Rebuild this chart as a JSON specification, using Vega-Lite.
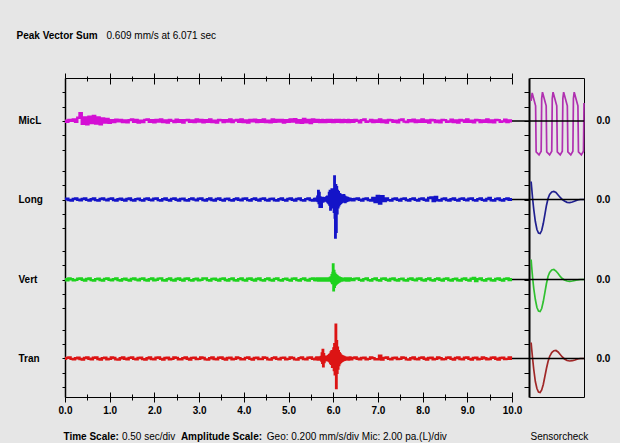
{
"$schema": "https://vega.github.io/schema/vega-lite/v6.json",
"width": 519, "height": 319,
"autosize": {"type": "none"},
"padding": {"left": 65, "top": 78, "right": 36, "bottom": 46},
"background": "#e6e6e6",
"config": {
  "view": {"stroke": null},
  "font": "Liberation Sans",
  "axis": {"grid": false, "domainColor": "#000", "tickColor": "#000", "labelColor": "#000", "labelFont": "Liberation Sans", "labelFontSize": 10, "labelFontWeight": "bold", "labelFlush": false, "labelOverlap": false, "labelBound": false, "titleFont": "Liberation Sans", "titleFontSize": 10, "titleColor": "#000", "titleFontWeight": "normal", "titleAlign": "left", "titleBaseline": "alphabetic", "titleAngle": 0, "domainWidth": 1, "tickWidth": 1}
},
"datasets": {
"traces": [
{"t":0,"MicL":0.05,"Long":0.004,"Vert":0.006,"Tran":-0.003},
{"t":0.05,"MicL":-0.12,"Long":0.012,"Vert":-0.01,"Tran":0.009},
{"t":0.1,"MicL":0.15,"Long":-0.006,"Vert":0.014,"Tran":0.014},
{"t":0.15,"MicL":0.02,"Long":-0.014,"Vert":0.003,"Tran":-0.006},
{"t":0.2,"MicL":0.2,"Long":0.008,"Vert":-0.012,"Tran":-0.013},
{"t":0.25,"MicL":-0.1,"Long":0.015,"Vert":-0.005,"Tran":0.004},
{"t":0.3,"MicL":0.45,"Long":-0.003,"Vert":0.011,"Tran":0.012},
{"t":0.35,"MicL":1.1,"Long":-0.012,"Vert":0.016,"Tran":-0.008},
{"t":0.4,"MicL":-0.4,"Long":0.007,"Vert":-0.004,"Tran":-0.015},
{"t":0.45,"MicL":0.5,"Long":0.013,"Vert":-0.014,"Tran":0.006},
{"t":0.5,"MicL":-0.45,"Long":-0.005,"Vert":0.008,"Tran":0.013},
{"t":0.55,"MicL":0.6,"Long":-0.015,"Vert":0.013,"Tran":-0.004},
{"t":0.6,"MicL":-0.3,"Long":0.004,"Vert":-0.009,"Tran":-0.012},
{"t":0.65,"MicL":0.7,"Long":0.014,"Vert":-0.015,"Tran":0.01},
{"t":0.7,"MicL":-0.35,"Long":-0.008,"Vert":0.005,"Tran":0.015},
{"t":0.75,"MicL":0.5,"Long":-0.013,"Vert":0.012,"Tran":-0.007},
{"t":0.8,"MicL":-0.45,"Long":0.006,"Vert":-0.006,"Tran":-0.014},
{"t":0.85,"MicL":0.35,"Long":0.016,"Vert":-0.013,"Tran":0.005},
{"t":0.9,"MicL":-0.2,"Long":-0.002,"Vert":0.009,"Tran":0.011},
{"t":0.95,"MicL":0.3,"Long":-0.011,"Vert":0.015,"Tran":-0.01},
{"t":1,"MicL":-0.25,"Long":0.009,"Vert":-0.003,"Tran":-0.005},
{"t":1.05,"MicL":0.1,"Long":0.014,"Vert":-0.012,"Tran":0.013},
{"t":1.1,"MicL":-0.15,"Long":-0.007,"Vert":0.006,"Tran":0.007},
{"t":1.15,"MicL":0.18,"Long":-0.016,"Vert":0.014,"Tran":-0.012},
{"t":1.2,"MicL":-0.05,"Long":0.003,"Vert":-0.008,"Tran":-0.016},
{"t":1.25,"MicL":0.14,"Long":0.012,"Vert":-0.015,"Tran":0.004},
{"t":1.3,"MicL":-0.16,"Long":-0.004,"Vert":0.004,"Tran":0.014},
{"t":1.35,"MicL":0.08,"Long":-0.013,"Vert":0.012,"Tran":-0.003},
{"t":1.4,"MicL":-0.18,"Long":0.008,"Vert":-0.005,"Tran":-0.011},
{"t":1.45,"MicL":0.12,"Long":0.015,"Vert":-0.014,"Tran":0.009},
{"t":1.5,"MicL":0.2,"Long":-0.006,"Vert":0.007,"Tran":0.016},
{"t":1.55,"MicL":-0.1,"Long":-0.014,"Vert":0.015,"Tran":-0.006},
{"t":1.6,"MicL":0.15,"Long":0.005,"Vert":-0.002,"Tran":-0.013},
{"t":1.65,"MicL":-0.2,"Long":0.012,"Vert":-0.012,"Tran":0.007},
{"t":1.7,"MicL":0.05,"Long":-0.009,"Vert":0.009,"Tran":0.012},
{"t":1.75,"MicL":-0.14,"Long":-0.015,"Vert":0.016,"Tran":-0.009},
{"t":1.8,"MicL":0.16,"Long":0.006,"Vert":-0.006,"Tran":-0.015},
{"t":1.85,"MicL":0.22,"Long":0.016,"Vert":-0.015,"Tran":0.003},
{"t":1.9,"MicL":-0.12,"Long":-0.003,"Vert":0.005,"Tran":0.013},
{"t":1.95,"MicL":0.1,"Long":-0.012,"Vert":0.013,"Tran":-0.008},
{"t":2,"MicL":-0.18,"Long":0.01,"Vert":-0.01,"Tran":-0.012},
{"t":2.05,"MicL":0.14,"Long":0.014,"Vert":-0.004,"Tran":0.01},
{"t":2.1,"MicL":-0.08,"Long":-0.008,"Vert":0.012,"Tran":0.015},
{"t":2.15,"MicL":0.2,"Long":-0.015,"Vert":0.014,"Tran":-0.005},
{"t":2.2,"MicL":-0.15,"Long":0.004,"Vert":-0.011,"Tran":-0.014},
{"t":2.25,"MicL":0.06,"Long":0.013,"Vert":-0.015,"Tran":0.006},
{"t":2.3,"MicL":-0.2,"Long":-0.005,"Vert":0.006,"Tran":0.012},
{"t":2.35,"MicL":0.15,"Long":-0.013,"Vert":0.013,"Tran":-0.01},
{"t":2.4,"MicL":0.02,"Long":0.009,"Vert":-0.007,"Tran":-0.006},
{"t":2.45,"MicL":-0.16,"Long":0.016,"Vert":-0.014,"Tran":0.014},
{"t":2.5,"MicL":0.18,"Long":-0.004,"Vert":0.008,"Tran":0.008},
{"t":2.55,"MicL":-0.1,"Long":-0.014,"Vert":0.016,"Tran":-0.013},
{"t":2.6,"MicL":0.12,"Long":0.007,"Vert":-0.003,"Tran":-0.011},
{"t":2.65,"MicL":-0.22,"Long":0.011,"Vert":-0.013,"Tran":0.005},
{"t":2.7,"MicL":0.1,"Long":-0.01,"Vert":0.01,"Tran":0.016},
{"t":2.75,"MicL":0.16,"Long":-0.016,"Vert":0.014,"Tran":-0.004},
{"t":2.8,"MicL":-0.12,"Long":0.005,"Vert":-0.009,"Tran":-0.015},
{"t":2.85,"MicL":0.08,"Long":0.015,"Vert":-0.016,"Tran":0.009},
{"t":2.9,"MicL":-0.16,"Long":-0.002,"Vert":0.004,"Tran":0.012},
{"t":2.95,"MicL":0.2,"Long":-0.012,"Vert":0.012,"Tran":-0.009},
{"t":3,"MicL":-0.06,"Long":0.01,"Vert":-0.012,"Tran":-0.005},
{"t":3.05,"MicL":0.14,"Long":0.013,"Vert":-0.005,"Tran":0.014},
{"t":3.1,"MicL":-0.18,"Long":-0.007,"Vert":0.013,"Tran":0.006},
{"t":3.15,"MicL":0.1,"Long":-0.015,"Vert":0.015,"Tran":-0.012},
{"t":3.2,"MicL":-0.1,"Long":0.003,"Vert":-0.008,"Tran":-0.014},
{"t":3.25,"MicL":0.2,"Long":0.014,"Vert":-0.014,"Tran":0.004},
{"t":3.3,"MicL":-0.14,"Long":-0.006,"Vert":0.007,"Tran":0.015},
{"t":3.35,"MicL":0.05,"Long":-0.013,"Vert":0.012,"Tran":-0.007},
{"t":3.4,"MicL":-0.2,"Long":0.008,"Vert":-0.004,"Tran":-0.012},
{"t":3.45,"MicL":0.16,"Long":0.016,"Vert":-0.015,"Tran":0.01},
{"t":3.5,"MicL":0.1,"Long":-0.005,"Vert":0.009,"Tran":0.013},
{"t":3.55,"MicL":-0.15,"Long":-0.014,"Vert":0.016,"Tran":-0.004},
{"t":3.6,"MicL":0.12,"Long":0.006,"Vert":-0.006,"Tran":-0.016},
{"t":3.65,"MicL":-0.08,"Long":0.012,"Vert":-0.013,"Tran":0.007},
{"t":3.7,"MicL":0.2,"Long":-0.009,"Vert":0.005,"Tran":0.011},
{"t":3.75,"MicL":-0.16,"Long":-0.015,"Vert":0.014,"Tran":-0.01},
{"t":3.8,"MicL":0.06,"Long":0.004,"Vert":-0.01,"Tran":-0.006},
{"t":3.85,"MicL":0.15,"Long":0.015,"Vert":-0.016,"Tran":0.014},
{"t":3.9,"MicL":-0.12,"Long":-0.003,"Vert":0.006,"Tran":0.005},
{"t":3.95,"MicL":0.22,"Long":-0.012,"Vert":0.013,"Tran":-0.013},
{"t":4,"MicL":-0.14,"Long":0.01,"Vert":-0.007,"Tran":-0.01},
{"t":4.05,"MicL":0.08,"Long":0.014,"Vert":-0.014,"Tran":0.008},
{"t":4.1,"MicL":-0.2,"Long":-0.008,"Vert":0.01,"Tran":0.015},
{"t":4.15,"MicL":0.15,"Long":-0.016,"Vert":0.015,"Tran":-0.006},
{"t":4.2,"MicL":-0.04,"Long":0.005,"Vert":-0.004,"Tran":-0.014},
{"t":4.25,"MicL":0.18,"Long":0.013,"Vert":-0.013,"Tran":0.006},
{"t":4.3,"MicL":-0.16,"Long":-0.004,"Vert":0.008,"Tran":0.012},
{"t":4.35,"MicL":0.1,"Long":-0.013,"Vert":0.014,"Tran":-0.009},
{"t":4.4,"MicL":-0.1,"Long":0.009,"Vert":-0.009,"Tran":-0.007},
{"t":4.45,"MicL":0.2,"Long":0.015,"Vert":-0.015,"Tran":0.013},
{"t":4.5,"MicL":-0.15,"Long":-0.006,"Vert":0.005,"Tran":0.009},
{"t":4.55,"MicL":0.05,"Long":-0.014,"Vert":0.013,"Tran":-0.012},
{"t":4.6,"MicL":-0.18,"Long":0.006,"Vert":-0.006,"Tran":-0.015},
{"t":4.65,"MicL":0.22,"Long":0.012,"Vert":-0.014,"Tran":0.005},
{"t":4.7,"MicL":-0.1,"Long":-0.01,"Vert":0.009,"Tran":0.014},
{"t":4.75,"MicL":0.14,"Long":-0.015,"Vert":0.016,"Tran":-0.005},
{"t":4.8,"MicL":-0.06,"Long":0.003,"Vert":-0.008,"Tran":-0.013},
{"t":4.85,"MicL":0.16,"Long":0.014,"Vert":-0.015,"Tran":0.008},
{"t":4.9,"MicL":-0.22,"Long":-0.005,"Vert":0.006,"Tran":0.012},
{"t":4.95,"MicL":0.12,"Long":-0.013,"Vert":0.012,"Tran":-0.01},
{"t":5,"MicL":-0.12,"Long":0.008,"Vert":-0.005,"Tran":-0.006},
{"t":5.05,"MicL":0.2,"Long":0.016,"Vert":-0.013,"Tran":0.014},
{"t":5.1,"MicL":-0.08,"Long":-0.004,"Vert":0.011,"Tran":0.007},
{"t":5.15,"MicL":0.25,"Long":-0.014,"Vert":0.015,"Tran":-0.012},
{"t":5.2,"MicL":-0.2,"Long":0.007,"Vert":-0.009,"Tran":-0.014},
{"t":5.25,"MicL":0.1,"Long":0.013,"Vert":-0.015,"Tran":0.005},
{"t":5.3,"MicL":-0.26,"Long":-0.008,"Vert":0.006,"Tran":0.013},
{"t":5.35,"MicL":0.28,"Long":-0.016,"Vert":0.013,"Tran":-0.008},
{"t":5.4,"MicL":-0.18,"Long":0.005,"Vert":-0.007,"Tran":-0.012},
{"t":5.45,"MicL":0.15,"Long":0.015,"Vert":-0.014,"Tran":0.01},
{"t":5.5,"MicL":-0.3,"Long":-0.006,"Vert":0.009,"Tran":0.015},
{"t":5.55,"MicL":0.22,"Long":-0.014,"Vert":0.016,"Tran":-0.006},
{"t":5.6,"MicL":-0.1,"Long":0.006,"Vert":-0.006,"Tran":-0.013},
{"t":5.61,"MicL":0.05,"Long":0.012,"Vert":-0.012,"Tran":-0.004},
{"t":5.62,"MicL":0.14,"Long":0.002,"Vert":-0.003,"Tran":0.008},
{"t":5.63,"MicL":0.03,"Long":-0.01,"Vert":0.008,"Tran":0.014},
{"t":5.64,"MicL":-0.12,"Long":-0.016,"Vert":0.013,"Tran":0.004},
{"t":5.65,"MicL":-0.04,"Long":0.04,"Vert":0.004,"Tran":-0.009},
{"t":5.66,"MicL":0.1,"Long":-0.02,"Vert":-0.009,"Tran":-0.014},
{"t":5.67,"MicL":0.15,"Long":0.12,"Vert":-0.014,"Tran":-0.002},
{"t":5.68,"MicL":-0.02,"Long":-0.05,"Vert":-0.004,"Tran":0.011},
{"t":5.69,"MicL":-0.13,"Long":0.09,"Vert":0.01,"Tran":0.015},
{"t":5.7,"MicL":-0.05,"Long":-0.1,"Vert":0.014,"Tran":0.002},
{"t":5.71,"MicL":0.12,"Long":0.03,"Vert":0.002,"Tran":-0.012},
{"t":5.72,"MicL":0.06,"Long":-0.06,"Vert":-0.01,"Tran":-0.015},
{"t":5.73,"MicL":-0.1,"Long":0.02,"Vert":-0.015,"Tran":0.02},
{"t":5.74,"MicL":-0.14,"Long":-0.1,"Vert":-0.003,"Tran":-0.03},
{"t":5.75,"MicL":0.02,"Long":0.01,"Vert":0.01,"Tran":0.07},
{"t":5.76,"MicL":0.14,"Long":-0.03,"Vert":0.015,"Tran":-0.06},
{"t":5.77,"MicL":0.08,"Long":0.02,"Vert":0.003,"Tran":0.12},
{"t":5.78,"MicL":-0.08,"Long":-0.025,"Vert":-0.011,"Tran":-0.11},
{"t":5.79,"MicL":-0.15,"Long":0.012,"Vert":-0.014,"Tran":0.06},
{"t":5.8,"MicL":0,"Long":-0.012,"Vert":0.002,"Tran":-0.05},
{"t":5.81,"MicL":0.12,"Long":0.008,"Vert":0.012,"Tran":0.025},
{"t":5.82,"MicL":0.1,"Long":-0.015,"Vert":0.013,"Tran":-0.025},
{"t":5.83,"MicL":-0.06,"Long":0.018,"Vert":-0.002,"Tran":0.015},
{"t":5.84,"MicL":-0.14,"Long":-0.01,"Vert":-0.012,"Tran":-0.02},
{"t":5.85,"MicL":0.04,"Long":0.03,"Vert":-0.013,"Tran":0.012},
{"t":5.86,"MicL":0.15,"Long":-0.02,"Vert":0.004,"Tran":-0.018},
{"t":5.87,"MicL":0.06,"Long":0.04,"Vert":0.014,"Tran":0.025},
{"t":5.88,"MicL":-0.1,"Long":-0.035,"Vert":0.01,"Tran":-0.022},
{"t":5.89,"MicL":-0.12,"Long":0.025,"Vert":-0.006,"Tran":0.03},
{"t":5.9,"MicL":0.04,"Long":-0.05,"Vert":-0.015,"Tran":-0.028},
{"t":5.91,"MicL":0.14,"Long":0.09,"Vert":-0.008,"Tran":0.045},
{"t":5.92,"MicL":0.05,"Long":-0.07,"Vert":0.012,"Tran":-0.04},
{"t":5.93,"MicL":-0.12,"Long":0.12,"Vert":0.02,"Tran":0.055},
{"t":5.94,"MicL":-0.1,"Long":-0.14,"Vert":-0.015,"Tran":-0.065},
{"t":5.95,"MicL":0.06,"Long":0.07,"Vert":0.03,"Tran":0.085},
{"t":5.96,"MicL":0.15,"Long":-0.11,"Vert":-0.025,"Tran":-0.075},
{"t":5.97,"MicL":0.02,"Long":0.14,"Vert":0.06,"Tran":0.1},
{"t":5.98,"MicL":-0.14,"Long":-0.09,"Vert":-0.05,"Tran":-0.115},
{"t":5.99,"MicL":-0.06,"Long":0.08,"Vert":0.09,"Tran":0.075},
{"t":6,"MicL":0.12,"Long":-0.11,"Vert":0.21,"Tran":-0.1},
{"t":6.01,"MicL":0.1,"Long":0.13,"Vert":-0.15,"Tran":0.14},
{"t":6.02,"MicL":-0.08,"Long":-0.17,"Vert":0.12,"Tran":-0.16},
{"t":6.03,"MicL":-0.15,"Long":0.32,"Vert":-0.1,"Tran":0.2},
{"t":6.04,"MicL":0.02,"Long":-0.25,"Vert":0.08,"Tran":-0.22},
{"t":6.05,"MicL":0.14,"Long":-0.53,"Vert":-0.07,"Tran":-0.2},
{"t":6.06,"MicL":0.08,"Long":0.2,"Vert":0.06,"Tran":0.47},
{"t":6.07,"MicL":-0.1,"Long":-0.45,"Vert":-0.055,"Tran":-0.41},
{"t":6.08,"MicL":-0.12,"Long":0.17,"Vert":0.05,"Tran":0.24},
{"t":6.09,"MicL":0.05,"Long":-0.19,"Vert":-0.045,"Tran":-0.2},
{"t":6.1,"MicL":0.15,"Long":0.12,"Vert":0.04,"Tran":0.15},
{"t":6.11,"MicL":0.04,"Long":-0.11,"Vert":-0.035,"Tran":-0.14},
{"t":6.12,"MicL":-0.12,"Long":0.1,"Vert":0.03,"Tran":0.1},
{"t":6.13,"MicL":-0.08,"Long":-0.08,"Vert":-0.028,"Tran":-0.09},
{"t":6.14,"MicL":0.1,"Long":0.075,"Vert":0.025,"Tran":0.075},
{"t":6.15,"MicL":0.14,"Long":-0.06,"Vert":-0.02,"Tran":-0.065},
{"t":6.16,"MicL":-0.02,"Long":0.065,"Vert":0.018,"Tran":0.055},
{"t":6.17,"MicL":-0.14,"Long":-0.045,"Vert":-0.016,"Tran":-0.045},
{"t":6.18,"MicL":-0.04,"Long":0.055,"Vert":0.014,"Tran":0.04},
{"t":6.19,"MicL":0.12,"Long":-0.035,"Vert":-0.015,"Tran":-0.035},
{"t":6.2,"MicL":0.08,"Long":0.045,"Vert":0.012,"Tran":0.03},
{"t":6.21,"MicL":-0.1,"Long":-0.03,"Vert":-0.01,"Tran":-0.03},
{"t":6.22,"MicL":-0.13,"Long":0.05,"Vert":0.008,"Tran":0.025},
{"t":6.23,"MicL":0.04,"Long":-0.025,"Vert":-0.012,"Tran":-0.022},
{"t":6.24,"MicL":0.14,"Long":0.06,"Vert":0.01,"Tran":0.02},
{"t":6.25,"MicL":0.06,"Long":-0.03,"Vert":-0.004,"Tran":-0.018},
{"t":6.26,"MicL":-0.1,"Long":0.04,"Vert":0.012,"Tran":0.015},
{"t":6.27,"MicL":-0.12,"Long":-0.035,"Vert":0.014,"Tran":-0.014},
{"t":6.28,"MicL":0.03,"Long":0.03,"Vert":0.002,"Tran":0.012},
{"t":6.29,"MicL":0.12,"Long":-0.02,"Vert":-0.01,"Tran":-0.012},
{"t":6.3,"MicL":0.08,"Long":0.025,"Vert":-0.014,"Tran":0.01},
{"t":6.31,"MicL":-0.08,"Long":-0.018,"Vert":-0.004,"Tran":-0.01},
{"t":6.32,"MicL":-0.14,"Long":0.02,"Vert":0.009,"Tran":0.012},
{"t":6.33,"MicL":0,"Long":-0.012,"Vert":0.015,"Tran":0.005},
{"t":6.34,"MicL":0.13,"Long":0.015,"Vert":0.004,"Tran":-0.008},
{"t":6.35,"MicL":0.1,"Long":-0.01,"Vert":-0.01,"Tran":-0.014},
{"t":6.36,"MicL":-0.06,"Long":0.012,"Vert":-0.015,"Tran":0.002},
{"t":6.37,"MicL":-0.14,"Long":-0.008,"Vert":-0.002,"Tran":0.012},
{"t":6.38,"MicL":-0.02,"Long":0.01,"Vert":0.01,"Tran":0.014},
{"t":6.39,"MicL":0.12,"Long":-0.006,"Vert":0.013,"Tran":-0.002},
{"t":6.4,"MicL":0.1,"Long":0.004,"Vert":0.003,"Tran":-0.012},
{"t":6.45,"MicL":-0.12,"Long":-0.012,"Vert":-0.008,"Tran":0.006},
{"t":6.5,"MicL":0.16,"Long":0.008,"Vert":0.012,"Tran":0.014},
{"t":6.55,"MicL":0.04,"Long":0.016,"Vert":0.015,"Tran":-0.004},
{"t":6.6,"MicL":-0.18,"Long":-0.004,"Vert":-0.005,"Tran":-0.013},
{"t":6.65,"MicL":0.12,"Long":-0.013,"Vert":-0.014,"Tran":0.007},
{"t":6.7,"MicL":0.2,"Long":0.007,"Vert":0.006,"Tran":0.012},
{"t":6.75,"MicL":-0.1,"Long":0.014,"Vert":0.013,"Tran":-0.01},
{"t":6.8,"MicL":-0.05,"Long":-0.006,"Vert":-0.009,"Tran":-0.006},
{"t":6.85,"MicL":0.15,"Long":-0.015,"Vert":-0.015,"Tran":0.014},
{"t":6.9,"MicL":-0.16,"Long":0.02,"Vert":0.005,"Tran":0.005},
{"t":6.95,"MicL":0.08,"Long":-0.035,"Vert":0.014,"Tran":-0.013},
{"t":7,"MicL":-0.12,"Long":0.05,"Vert":-0.008,"Tran":-0.01},
{"t":7.05,"MicL":0.22,"Long":-0.055,"Vert":-0.014,"Tran":0.04},
{"t":7.1,"MicL":-0.14,"Long":0.045,"Vert":0.01,"Tran":-0.015},
{"t":7.15,"MicL":0.06,"Long":-0.02,"Vert":0.015,"Tran":0.008},
{"t":7.2,"MicL":-0.2,"Long":0.016,"Vert":-0.004,"Tran":0.014},
{"t":7.25,"MicL":0.15,"Long":-0.008,"Vert":-0.013,"Tran":-0.006},
{"t":7.3,"MicL":0.1,"Long":-0.014,"Vert":0.008,"Tran":-0.013},
{"t":7.35,"MicL":-0.12,"Long":0.006,"Vert":0.014,"Tran":0.006},
{"t":7.4,"MicL":0.04,"Long":0.015,"Vert":-0.006,"Tran":0.012},
{"t":7.45,"MicL":-0.18,"Long":-0.004,"Vert":-0.015,"Tran":-0.009},
{"t":7.5,"MicL":0.14,"Long":-0.013,"Vert":0.005,"Tran":-0.005},
{"t":7.55,"MicL":0.2,"Long":0.009,"Vert":0.012,"Tran":0.014},
{"t":7.6,"MicL":-0.08,"Long":0.014,"Vert":-0.01,"Tran":0.008},
{"t":7.65,"MicL":-0.15,"Long":-0.007,"Vert":-0.014,"Tran":-0.012},
{"t":7.7,"MicL":0.12,"Long":-0.015,"Vert":0.007,"Tran":-0.014},
{"t":7.75,"MicL":-0.04,"Long":0.005,"Vert":0.015,"Tran":0.004},
{"t":7.8,"MicL":0.18,"Long":0.013,"Vert":-0.003,"Tran":0.013},
{"t":7.85,"MicL":-0.16,"Long":-0.005,"Vert":-0.012,"Tran":-0.007},
{"t":7.9,"MicL":0.06,"Long":-0.014,"Vert":0.01,"Tran":-0.012},
{"t":7.95,"MicL":-0.1,"Long":0.008,"Vert":0.014,"Tran":0.009},
{"t":8,"MicL":0.2,"Long":0.016,"Vert":-0.007,"Tran":0.015},
{"t":8.05,"MicL":-0.12,"Long":-0.004,"Vert":-0.015,"Tran":-0.004},
{"t":8.1,"MicL":0.08,"Long":-0.013,"Vert":0.006,"Tran":-0.014},
{"t":8.15,"MicL":-0.2,"Long":0.02,"Vert":0.013,"Tran":0.006},
{"t":8.2,"MicL":0.14,"Long":0.03,"Vert":-0.009,"Tran":0.012},
{"t":8.25,"MicL":0.1,"Long":-0.02,"Vert":-0.014,"Tran":-0.01},
{"t":8.3,"MicL":-0.14,"Long":0.035,"Vert":0.005,"Tran":-0.006},
{"t":8.35,"MicL":0.05,"Long":-0.01,"Vert":0.015,"Tran":0.014},
{"t":8.4,"MicL":-0.18,"Long":-0.015,"Vert":-0.004,"Tran":0.005},
{"t":8.45,"MicL":0.16,"Long":0.007,"Vert":-0.013,"Tran":-0.013},
{"t":8.5,"MicL":0.12,"Long":0.014,"Vert":0.009,"Tran":-0.009},
{"t":8.55,"MicL":-0.1,"Long":-0.006,"Vert":0.014,"Tran":0.011},
{"t":8.6,"MicL":-0.06,"Long":-0.015,"Vert":-0.007,"Tran":0.014},
{"t":8.65,"MicL":0.18,"Long":0.004,"Vert":-0.015,"Tran":-0.006},
{"t":8.7,"MicL":-0.14,"Long":0.013,"Vert":0.006,"Tran":-0.014},
{"t":8.75,"MicL":0.08,"Long":-0.005,"Vert":0.012,"Tran":0.007},
{"t":8.8,"MicL":-0.2,"Long":-0.014,"Vert":-0.01,"Tran":0.013},
{"t":8.85,"MicL":0.15,"Long":0.009,"Vert":-0.014,"Tran":-0.008},
{"t":8.9,"MicL":0.06,"Long":0.016,"Vert":0.007,"Tran":-0.011},
{"t":8.95,"MicL":-0.12,"Long":-0.003,"Vert":0.015,"Tran":0.01},
{"t":9,"MicL":0.2,"Long":-0.012,"Vert":-0.005,"Tran":0.015},
{"t":9.05,"MicL":-0.1,"Long":0.01,"Vert":-0.013,"Tran":-0.005},
{"t":9.1,"MicL":0.04,"Long":0.014,"Vert":0.01,"Tran":-0.014},
{"t":9.15,"MicL":-0.18,"Long":-0.008,"Vert":0.02,"Tran":0.006},
{"t":9.2,"MicL":0.14,"Long":-0.015,"Vert":-0.022,"Tran":0.012},
{"t":9.25,"MicL":0.1,"Long":0.005,"Vert":0.006,"Tran":-0.01},
{"t":9.3,"MicL":-0.15,"Long":0.013,"Vert":0.013,"Tran":-0.006},
{"t":9.35,"MicL":0.06,"Long":-0.005,"Vert":-0.008,"Tran":0.014},
{"t":9.4,"MicL":-0.1,"Long":-0.014,"Vert":-0.015,"Tran":0.004},
{"t":9.45,"MicL":0.2,"Long":0.008,"Vert":0.005,"Tran":-0.013},
{"t":9.5,"MicL":-0.14,"Long":0.02,"Vert":0.012,"Tran":-0.008},
{"t":9.55,"MicL":0.08,"Long":-0.01,"Vert":-0.01,"Tran":0.011},
{"t":9.6,"MicL":-0.18,"Long":-0.014,"Vert":-0.014,"Tran":0.015},
{"t":9.65,"MicL":0.15,"Long":0.006,"Vert":0.008,"Tran":-0.004},
{"t":9.7,"MicL":0.12,"Long":0.014,"Vert":0.015,"Tran":-0.014},
{"t":9.75,"MicL":-0.1,"Long":-0.006,"Vert":-0.004,"Tran":0.007},
{"t":9.8,"MicL":-0.05,"Long":-0.015,"Vert":-0.013,"Tran":0.012},
{"t":9.85,"MicL":0.18,"Long":0.005,"Vert":0.009,"Tran":-0.009},
{"t":9.9,"MicL":-0.14,"Long":0.013,"Vert":0.014,"Tran":-0.006},
{"t":9.95,"MicL":0.08,"Long":-0.004,"Vert":-0.006,"Tran":0.013},
{"t":10,"MicL":-0.05,"Long":0.003,"Vert":0.004,"Tran":-0.003}
],
"micSensor": [
{"s":0,"MicL":2.8},{"s":0.02,"MicL":3.9},{"s":0.085,"MicL":2.1},{"s":0.095,"MicL":-4.3},{"s":0.15,"MicL":-4.7},{"s":0.19,"MicL":-4.2},
{"s":0.2,"MicL":3.1},{"s":0.215,"MicL":4.0},{"s":0.285,"MicL":2.1},{"s":0.295,"MicL":-4.3},{"s":0.35,"MicL":-4.7},{"s":0.39,"MicL":-4.2},
{"s":0.4,"MicL":3.1},{"s":0.415,"MicL":4.0},{"s":0.485,"MicL":2.1},{"s":0.495,"MicL":-4.3},{"s":0.55,"MicL":-4.7},{"s":0.59,"MicL":-4.2},
{"s":0.6,"MicL":3.1},{"s":0.615,"MicL":4.0},{"s":0.685,"MicL":2.1},{"s":0.695,"MicL":-4.3},{"s":0.75,"MicL":-4.7},{"s":0.79,"MicL":-4.2},
{"s":0.8,"MicL":3.1},{"s":0.815,"MicL":4.0},{"s":0.885,"MicL":2.1},{"s":0.895,"MicL":-4.3},{"s":0.95,"MicL":-4.7},{"s":0.99,"MicL":-4.2},
{"s":1,"MicL":2.5}
],
"geoSensor": [
{"s":0,"Long":0.25,"Vert":0.278,"Tran":0.222},
{"s":0.01,"Long":0.167,"Vert":0.181,"Tran":0.139},
{"s":0.03,"Long":0,"Vert":0.014,"Tran":-0.014},
{"s":0.05,"Long":-0.139,"Vert":-0.125,"Tran":-0.153},
{"s":0.08,"Long":-0.306,"Vert":-0.278,"Tran":-0.32},
{"s":0.11,"Long":-0.417,"Vert":-0.389,"Tran":-0.417},
{"s":0.14,"Long":-0.466,"Vert":-0.438,"Tran":-0.466},
{"s":0.17,"Long":-0.473,"Vert":-0.445,"Tran":-0.473},
{"s":0.2,"Long":-0.431,"Vert":-0.403,"Tran":-0.438},
{"s":0.23,"Long":-0.334,"Vert":-0.306,"Tran":-0.361},
{"s":0.26,"Long":-0.209,"Vert":-0.181,"Tran":-0.25},
{"s":0.29,"Long":-0.083,"Vert":-0.056,"Tran":-0.139},
{"s":0.32,"Long":0.014,"Vert":0.042,"Tran":-0.042},
{"s":0.35,"Long":0.07,"Vert":0.097,"Tran":0.028},
{"s":0.39,"Long":0.104,"Vert":0.132,"Tran":0.083},
{"s":0.43,"Long":0.111,"Vert":0.139,"Tran":0.108},
{"s":0.47,"Long":0.097,"Vert":0.118,"Tran":0.111},
{"s":0.51,"Long":0.063,"Vert":0.083,"Tran":0.09},
{"s":0.55,"Long":0.028,"Vert":0.042,"Tran":0.056},
{"s":0.59,"Long":0,"Vert":0.014,"Tran":0.021},
{"s":0.63,"Long":-0.021,"Vert":-0.007,"Tran":-0.007},
{"s":0.68,"Long":-0.039,"Vert":-0.021,"Tran":-0.028},
{"s":0.73,"Long":-0.042,"Vert":-0.025,"Tran":-0.035},
{"s":0.78,"Long":-0.035,"Vert":-0.021,"Tran":-0.031},
{"s":0.83,"Long":-0.021,"Vert":-0.014,"Tran":-0.021},
{"s":0.88,"Long":-0.007,"Vert":-0.004,"Tran":-0.007},
{"s":0.93,"Long":0,"Vert":0,"Tran":0},
{"s":1,"Long":0,"Vert":0,"Tran":0}
]
},
"layer": [
{
 "layer": [
  {"data": {"name": "traces"}, "mark": {"type": "line", "color": "#d40fd4", "strokeWidth": 2.4, "interpolate": "step"},
   "encoding": {
    "x": {"field": "t", "type": "quantitative", "scale": {"domain": [0, 10], "range": [0, 447], "nice": false, "zero": false},
          "axis": {"orient": "top", "values": [0,0.5,1,1.5,2,2.5,3,3.5,4,4.5,5,5.5,6,6.5,7,7.5,8,8.5,9,9.5,10], "domain": true, "labels": false, "tickSize": {"condition": {"test": "datum.value % 1 > 0.1", "value": 2}, "value": 5}, "title": "Peak Vector Sum", "titleFontWeight": "bold", "titleX": -49, "titleY": -39.5}},
    "y": {"field": "MicL", "type": "quantitative", "scale": {"domain": [-38.333, 5.972], "nice": false, "zero": false},
          "axis": {"orient": "left", "values": [-4,-2,0,2,4], "domain": true, "domainWidth": 1.5, "tickSize": 3, "labelExpr": "datum.value == 0 ? 'MicL' : ''", "labelAlign": "left", "labelPadding": 44, "title": null}}
   }},
  {"data": {"name": "micSensor"}, "mark": {"type": "line", "color": "#b030b0", "strokeWidth": 1.7},
   "encoding": {
    "x": {"field": "s", "type": "quantitative", "scale": {"domain": [-0.04, 1], "range": [464, 519], "nice": false, "zero": false},
          "axis": {"orient": "top", "domain": true, "ticks": false, "labels": false, "title": null}},
    "y": {"field": "MicL", "type": "quantitative", "scale": {"domain": [-38.333, 5.972], "nice": false, "zero": false},
          "axis": {"orient": "left", "offset": -464, "values": [-4,-2,0,2,4], "domain": true, "domainWidth": 2, "tickSize": 5, "labels": false, "title": null}}
   }},
  {"data": {"values": [{"baseline": 0}]}, "mark": {"type": "rule", "color": "#000", "strokeWidth": 1.5},
   "encoding": {
    "x": {"datum": 10, "type": "quantitative", "scale": {"domain": [0, 10], "range": [0, 447], "nice": false, "zero": false},
          "axis": {"orient": "bottom", "domain": false, "ticks": false, "labels": false, "title": "Amplitude Scale:", "titleFontWeight": "bold", "titleX": 115.4, "titleY": 42.5}},
    "x2": {"datum": 11.61},
    "y": {"field": "baseline", "type": "quantitative", "scale": {"domain": [-38.333, 5.972], "nice": false, "zero": false},
          "axis": {"orient": "right", "values": [0], "ticks": false, "domain": true, "labelExpr": "'0.0'", "labelPadding": 12, "labelAlign": "left", "title": null}}
   }}
 ],
 "resolve": {"scale": {"x": "independent"}, "axis": {"x": "independent", "y": "independent"}}
},
{
 "layer": [
  {"data": {"name": "traces"}, "mark": {"type": "line", "color": "#1414c8", "strokeWidth": 2.4, "interpolate": "step"},
   "encoding": {
    "x": {"field": "t", "type": "quantitative", "scale": {"domain": [0, 10], "range": [0, 447], "nice": false, "zero": false},
          "axis": {"orient": "top", "values": [0,0.5,1,1.5,2,2.5,3,3.5,4,4.5,5,5.5,6,6.5,7,7.5,8,8.5,9,9.5,10], "domain": false, "labels": false, "tickSize": {"condition": {"test": "datum.value % 1 > 0.1", "value": -3}, "value": -6}, "title": "0.609 mm/s at 6.071 sec", "titleX": 41, "titleY": -39.5}},
    "y": {"field": "Long", "type": "quantitative", "scale": {"domain": [-2.743, 1.6875], "nice": false, "zero": false},
          "axis": {"orient": "left", "values": [-0.4,-0.2,0,0.2,0.4], "domain": false, "tickSize": 3, "labelExpr": "datum.value == 0 ? 'Long' : ''", "labelAlign": "left", "labelPadding": 44, "title": null}}
   }},
  {"data": {"name": "geoSensor"}, "mark": {"type": "line", "color": "#202090", "strokeWidth": 1.7},
   "encoding": {
    "x": {"field": "s", "type": "quantitative", "scale": {"domain": [-0.04, 1], "range": [464, 519], "nice": false, "zero": false}, "axis": null},
    "y": {"field": "Long", "type": "quantitative", "scale": {"domain": [-2.743, 1.6875], "nice": false, "zero": false},
          "axis": {"orient": "left", "offset": -464, "values": [-0.4,-0.2,0,0.2,0.4], "domain": false, "tickSize": 5, "labels": false, "title": null}}
   }},
  {"data": {"values": [{"baseline": 0}]}, "mark": {"type": "rule", "color": "#000", "strokeWidth": 1.5},
   "encoding": {
    "x": {"datum": 10, "type": "quantitative", "scale": {"domain": [0, 10], "range": [0, 447], "nice": false, "zero": false},
          "axis": {"orient": "bottom", "domain": false, "ticks": false, "labels": false, "title": "Geo: 0.200 mm/s/div Mic: 2.00 pa.(L)/div", "titleX": 201.3, "titleY": 42.5}},
    "x2": {"datum": 11.61},
    "y": {"field": "baseline", "type": "quantitative", "scale": {"domain": [-2.743, 1.6875], "nice": false, "zero": false},
          "axis": {"orient": "right", "values": [0], "ticks": false, "domain": false, "labelExpr": "'0.0'", "labelPadding": 12, "labelAlign": "left", "title": null}}
   }}
 ],
 "resolve": {"scale": {"x": "independent"}, "axis": {"x": "independent", "y": "independent"}}
},
{
 "layer": [
  {"data": {"name": "traces"}, "mark": {"type": "line", "color": "#1ed21e", "strokeWidth": 2.4, "interpolate": "step"},
   "encoding": {
    "x": {"field": "t", "type": "quantitative", "scale": {"domain": [0, 10], "range": [0, 447], "nice": false, "zero": false},
          "axis": {"orient": "bottom", "values": [0,0.5,1,1.5,2,2.5,3,3.5,4,4.5,5,5.5,6,6.5,7,7.5,8,8.5,9,9.5,10], "domain": false, "labels": false, "tickSize": {"condition": {"test": "datum.value % 1 > 0.1", "value": -3}, "value": -5}, "title": "0.50 sec/div", "titleX": 56.4, "titleY": 42.5}},
    "y": {"field": "Vert", "type": "quantitative", "scale": {"domain": [-1.632, 2.799], "nice": false, "zero": false},
          "axis": {"orient": "left", "values": [-0.4,-0.2,0,0.2,0.4], "domain": false, "tickSize": 3, "labelExpr": "datum.value == 0 ? 'Vert' : ''", "labelAlign": "left", "labelPadding": 44, "title": null}}
   }},
  {"data": {"name": "geoSensor"}, "mark": {"type": "line", "color": "#30c030", "strokeWidth": 1.7},
   "encoding": {
    "x": {"field": "s", "type": "quantitative", "scale": {"domain": [-0.04, 1], "range": [464, 519], "nice": false, "zero": false}, "axis": null},
    "y": {"field": "Vert", "type": "quantitative", "scale": {"domain": [-1.632, 2.799], "nice": false, "zero": false},
          "axis": {"orient": "left", "offset": -464, "values": [-0.4,-0.2,0,0.2,0.4], "domain": false, "tickSize": 5, "labels": false, "title": null}}
   }},
  {"data": {"values": [{"baseline": 0}]}, "mark": {"type": "rule", "color": "#000", "strokeWidth": 1.5},
   "encoding": {
    "x": {"datum": 10, "type": "quantitative", "scale": {"domain": [0, 10], "range": [0, 447], "nice": false, "zero": false}, "axis": null},
    "x2": {"datum": 11.61},
    "y": {"field": "baseline", "type": "quantitative", "scale": {"domain": [-1.632, 2.799], "nice": false, "zero": false},
          "axis": {"orient": "right", "values": [0], "ticks": false, "domain": false, "labelExpr": "'0.0'", "labelPadding": 12, "labelAlign": "left", "title": null}}
   }}
 ],
 "resolve": {"scale": {"x": "independent"}, "axis": {"x": "independent", "y": "independent"}}
},
{
 "layer": [
  {"data": {"name": "traces"}, "mark": {"type": "line", "color": "#dc1414", "strokeWidth": 2.4, "interpolate": "step"},
   "encoding": {
    "x": {"field": "t", "type": "quantitative", "scale": {"domain": [0, 10], "range": [0, 447], "nice": false, "zero": false},
          "axis": {"orient": "bottom", "values": [0,0.5,1,1.5,2,2.5,3,3.5,4,4.5,5,5.5,6,6.5,7,7.5,8,8.5,9,9.5,10], "domain": true, "tickSize": {"condition": {"test": "datum.value % 1 > 0.1", "value": 3}, "value": 5}, "labelExpr": "datum.value % 1 > 0.1 ? '' : format(datum.value, '.1f')", "labelPadding": 3, "title": "Time Scale:", "titleFontWeight": "bold", "titleX": -2, "titleY": 42.5}},
    "y": {"field": "Tran", "type": "quantitative", "scale": {"domain": [-0.535, 3.896], "nice": false, "zero": false},
          "axis": {"orient": "left", "values": [-0.4,-0.2,0,0.2,0.4], "domain": false, "tickSize": 3, "labelExpr": "datum.value == 0 ? 'Tran' : ''", "labelAlign": "left", "labelPadding": 44, "title": null}}
   }},
  {"data": {"name": "geoSensor"}, "mark": {"type": "line", "color": "#a02828", "strokeWidth": 1.7},
   "encoding": {
    "x": {"field": "s", "type": "quantitative", "scale": {"domain": [-0.04, 1], "range": [464, 519], "nice": false, "zero": false},
          "axis": {"orient": "bottom", "domain": true, "ticks": false, "labels": false, "title": "Sensorcheck", "titleX": 465, "titleY": 42.5}},
    "y": {"field": "Tran", "type": "quantitative", "scale": {"domain": [-0.535, 3.896], "nice": false, "zero": false},
          "axis": {"orient": "left", "offset": -464, "values": [-0.4,-0.2,0,0.2,0.4], "domain": false, "tickSize": 5, "labels": false, "title": null}}
   }},
  {"data": {"values": [{"baseline": 0}]}, "mark": {"type": "rule", "color": "#000", "strokeWidth": 1.5},
   "encoding": {
    "x": {"datum": 10, "type": "quantitative", "scale": {"domain": [0, 10], "range": [0, 447], "nice": false, "zero": false}, "axis": null},
    "x2": {"datum": 11.61},
    "y": {"field": "baseline", "type": "quantitative", "scale": {"domain": [-0.535, 3.896], "nice": false, "zero": false},
          "axis": {"orient": "right", "values": [0], "ticks": false, "domain": false, "labelExpr": "'0.0'", "labelPadding": 12, "labelAlign": "left", "title": null}}
   }}
 ],
 "resolve": {"scale": {"x": "independent"}, "axis": {"x": "independent", "y": "independent"}}
}
],
"resolve": {"scale": {"x": "independent", "y": "independent"}, "axis": {"x": "independent", "y": "independent"}}
}
